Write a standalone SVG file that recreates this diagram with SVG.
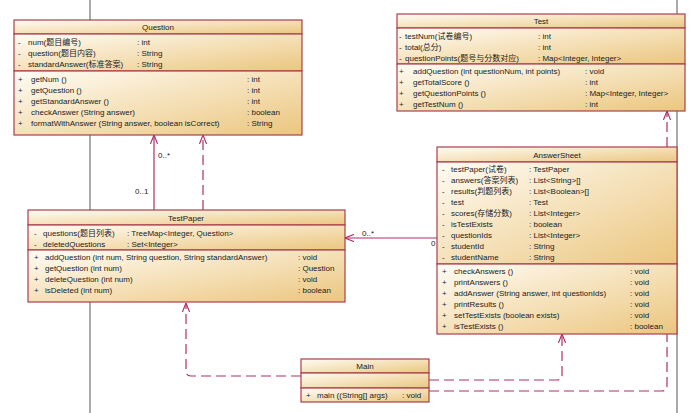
<svg xmlns="http://www.w3.org/2000/svg" width="692" height="413" viewBox="0 0 692 413">
<defs>
<linearGradient id="g" x1="0" y1="0" x2="1" y2="1">
<stop offset="0" stop-color="#fffcf5"/>
<stop offset="1" stop-color="#ebc67e"/>
</linearGradient>
<marker id="arr" viewBox="0 0 10 8" refX="10" refY="4" markerWidth="9" markerHeight="7.2" markerUnits="userSpaceOnUse" orient="auto">
<path d="M0,0 L10,4 L0,8" fill="none" stroke="#b0306a" stroke-width="1.3"/>
</marker>
<style>
.box rect{fill:url(#g);stroke:#a8404c;stroke-width:1.2}
text{font-family:"Liberation Sans","Noto Sans CJK SC",sans-serif;font-size:8px;fill:#222}
.t{text-anchor:middle}
.c{fill:none;stroke:#b0306a;stroke-width:1.2;marker-end:url(#arr)}
.d{stroke-dasharray:10 5}
.bg{stroke:#555;stroke-width:1}
</style>
</defs>
<rect width="692" height="413" fill="#fff"/>
<line class="bg" x1="90" y1="0" x2="90" y2="413"/>
<line class="bg" x1="677" y1="0" x2="677" y2="413"/>

<g id="connectors">
<path class="c" d="M154,210 V135"/>
<path class="c d" d="M203,210 V135"/>
<path class="c" d="M437,238 H345"/>
<path class="c d" d="M301,376 H191 Q186,376 186,371 V303"/>
<path class="c d" d="M429,380 H557 Q562,380 562,375 V334"/>
<path class="c d" d="M429,391 H662 Q667,391 667,386 V111"/>
<text x="158" y="158">0..*</text>
<text x="135" y="194">0..1</text>
<text x="362" y="236">0..*</text>
<text x="431" y="246">0</text>
</g>

<g id="Question" class="box">
<rect x="14" y="20" width="288" height="14"/>
<rect x="14" y="34" width="288" height="37"/>
<rect x="14" y="71" width="288" height="64"/>
<text class="t" x="158" y="30">Question</text>
<text x="18" y="45">-</text><text x="28" y="45">num(题目编号)</text><text x="137" y="45">: int</text>
<text x="18" y="56">-</text><text x="28" y="56">question(题目内容)</text><text x="137" y="56">: String</text>
<text x="18" y="67">-</text><text x="28" y="67">standardAnswer(标准答案)</text><text x="137" y="67">: String</text>
<text x="18" y="82">+</text><text x="31" y="82">getNum ()</text><text x="247" y="82">: int</text>
<text x="18" y="93">+</text><text x="31" y="93">getQuestion ()</text><text x="247" y="93">: int</text>
<text x="18" y="104">+</text><text x="31" y="104">getStandardAnswer ()</text><text x="247" y="104">: int</text>
<text x="18" y="115">+</text><text x="31" y="115">checkAnswer (String answer)</text><text x="247" y="115">: boolean</text>
<text x="18" y="126">+</text><text x="31" y="126">formatWithAnswer (String answer, boolean isCorrect)</text><text x="247" y="126">: String</text>
</g>

<g id="Test" class="box">
<rect x="397" y="14" width="288" height="14"/>
<rect x="397" y="28" width="288" height="36"/>
<rect x="397" y="64" width="288" height="47"/>
<text class="t" x="541" y="24">Test</text>
<text x="399" y="39">-</text><text x="405" y="39">testNum(试卷编号)</text><text x="538" y="39">: int</text>
<text x="399" y="50">-</text><text x="405" y="50">total(总分)</text><text x="538" y="50">: int</text>
<text x="399" y="61">-</text><text x="405" y="61">questionPoints(题号与分数对应)</text><text x="538" y="61">: Map&lt;Integer, Integer&gt;</text>
<text x="399" y="74">+</text><text x="413" y="74">addQuestion (int questionNum, int points)</text><text x="585" y="74">: void</text>
<text x="399" y="85">+</text><text x="413" y="85">getTotalScore ()</text><text x="585" y="85">: int</text>
<text x="399" y="96">+</text><text x="413" y="96">getQuestionPoints ()</text><text x="585" y="96">: Map&lt;Integer, Integer&gt;</text>
<text x="399" y="107">+</text><text x="413" y="107">getTestNum ()</text><text x="585" y="107">: int</text>
</g>

<g id="AnswerSheet" class="box">
<rect x="437" y="147" width="240" height="15"/>
<rect x="437" y="162" width="240" height="102"/>
<rect x="437" y="264" width="240" height="70"/>
<text class="t" x="557" y="158">AnswerSheet</text>
<text x="442" y="172">-</text><text x="451" y="172">testPaper(试卷)</text><text x="529" y="172">: TestPaper</text>
<text x="442" y="183">-</text><text x="451" y="183">answers(答案列表)</text><text x="529" y="183">: List&lt;String&gt;[]</text>
<text x="442" y="194">-</text><text x="451" y="194">results(判题列表)</text><text x="529" y="194">: List&lt;Boolean&gt;[]</text>
<text x="442" y="205">-</text><text x="451" y="205">test</text><text x="529" y="205">: Test</text>
<text x="442" y="216">-</text><text x="451" y="216">scores(存储分数)</text><text x="529" y="216">: List&lt;Integer&gt;</text>
<text x="442" y="227">-</text><text x="451" y="227">isTestExists</text><text x="529" y="227">: boolean</text>
<text x="442" y="238">-</text><text x="451" y="238">questionIds</text><text x="529" y="238">: List&lt;Integer&gt;</text>
<text x="442" y="249">-</text><text x="451" y="249">studentId</text><text x="529" y="249">: String</text>
<text x="442" y="260">-</text><text x="451" y="260">studentName</text><text x="529" y="260">: String</text>
<text x="442" y="274">+</text><text x="454" y="274">checkAnswers ()</text><text x="630" y="274">: void</text>
<text x="442" y="285">+</text><text x="454" y="285">printAnswers ()</text><text x="630" y="285">: void</text>
<text x="442" y="296">+</text><text x="454" y="296">addAnswer (String answer, int questionIds)</text><text x="630" y="296">: void</text>
<text x="442" y="307">+</text><text x="454" y="307">printResults ()</text><text x="630" y="307">: void</text>
<text x="442" y="318">+</text><text x="454" y="318">setTestExists (boolean exists)</text><text x="630" y="318">: void</text>
<text x="442" y="329">+</text><text x="454" y="329">isTestExists ()</text><text x="630" y="329">: boolean</text>
</g>

<g id="TestPaper" class="box">
<rect x="28" y="210" width="317" height="15"/>
<rect x="28" y="225" width="317" height="25"/>
<rect x="28" y="250" width="317" height="52"/>
<text class="t" x="186" y="221">TestPaper</text>
<text x="34" y="236">-</text><text x="43" y="236">questions(题目列表)</text><text x="127" y="236">: TreeMap&lt;Integer, Question&gt;</text>
<text x="34" y="247">-</text><text x="43" y="247">deletedQuestions</text><text x="127" y="247">: Set&lt;Integer&gt;</text>
<text x="34" y="260">+</text><text x="45" y="260">addQuestion (int num, String question, String standardAnswer)</text><text x="298" y="260">: void</text>
<text x="34" y="271">+</text><text x="45" y="271">getQuestion (int num)</text><text x="298" y="271">: Question</text>
<text x="34" y="282">+</text><text x="45" y="282">deleteQuestion (int num)</text><text x="298" y="282">: void</text>
<text x="34" y="293">+</text><text x="45" y="293">isDeleted (int num)</text><text x="298" y="293">: boolean</text>
</g>

<g id="Main" class="box">
<rect x="301" y="359" width="128" height="14"/>
<rect x="301" y="373" width="128" height="15"/>
<rect x="301" y="388" width="128" height="14"/>
<text class="t" x="365" y="369">Main</text>
<text x="306" y="398">+</text><text x="317" y="398">main ((String[] args)</text><text x="402" y="398">: void</text>
</g>
</svg>
